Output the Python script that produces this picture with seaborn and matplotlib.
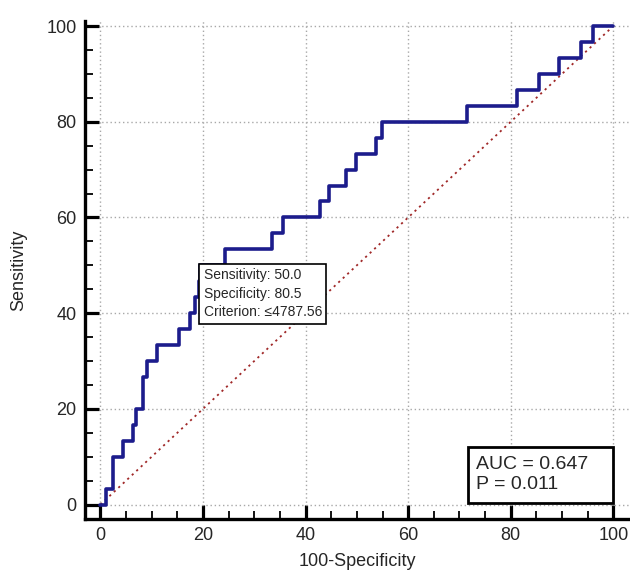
import matplotlib
matplotlib.use("Agg")
import matplotlib.pyplot as plt
import seaborn as sns
import pandas as pd
from matplotlib.ticker import MultipleLocator
from matplotlib.patches import Rectangle

# ROC curve vertices (100-Specificity, Sensitivity), drawn as steps-post
fpr = [0, 1.0, 2.4, 4.4, 6.3, 6.9, 8.3, 9.0, 11.0, 15.4, 17.5, 18.5, 19.2, 19.5,
       24.2, 33.5, 35.6, 42.9, 44.5, 47.8, 49.9, 53.7, 54.9, 71.5, 81.3, 85.6,
       89.5, 93.7, 96.0, 100]
tpr = [0, 3.33, 10, 13.33, 16.67, 20, 26.67, 30, 33.33, 36.67, 40, 43.33, 46.67,
       50, 53.33, 56.67, 60, 63.33, 66.67, 70, 73.33, 76.67, 80, 83.33, 86.67,
       90, 93.33, 96.67, 100, 100]
diag_x = [0, 100]
diag_y = [0, 100]
crit_fpr, crit_sens = 19.5, 50.0
crit_text = "Sensitivity: 50.0\nSpecificity: 80.5\nCriterion: \u22644787.56"
auc_text = "AUC = 0.647\nP = 0.011"
ticks = [0, 20, 40, 60, 80, 100]

sns.set_style("white")
plt.rcParams['font.family'] = ['Liberation Sans', 'DejaVu Sans']

fig = plt.figure(figsize=(6.3, 5.74), dpi=100)
ax = fig.add_axes([0.135, 0.096, 0.863, 0.867])

df = pd.DataFrame({"fpr": fpr, "tpr": tpr})
ddf = pd.DataFrame({"x": diag_x, "y": diag_y})

sns.lineplot(data=ddf, x="x", y="y", ax=ax, color="#a02828", lw=1.3,
             linestyle=(0, (1.2, 2.2)), sort=False, estimator=None, zorder=2)
sns.lineplot(data=df, x="fpr", y="tpr", ax=ax, color="#1c1c8c", lw=2.6,
             drawstyle="steps-post", sort=False, estimator=None, zorder=3)

ax.set_xlim(-3, 103)
ax.set_ylim(-3, 101)
ax.set_xticks(ticks)
ax.set_yticks(ticks)
ax.xaxis.set_minor_locator(MultipleLocator(5))
ax.yaxis.set_minor_locator(MultipleLocator(5))
ax.tick_params(which="major", direction="in", length=10, width=2.3, labelsize=13,
               color="black", pad=6)
ax.tick_params(which="minor", direction="in", length=5.5, width=1.3, color="black")
ax.tick_params(axis="y", which="both", left=True)
ax.tick_params(axis="x", which="both", bottom=True)

ax.grid(True, which="major", color="#a8a8a8", linestyle=(0, (1, 2)), lw=1)
for s in ["top", "right"]:
    ax.spines[s].set_visible(False)
for s in ["left", "bottom"]:
    ax.spines[s].set_linewidth(2.4)
    ax.spines[s].set_color("black")

ax.set_xlabel("100-Specificity", fontsize=13, labelpad=6)
ax.set_ylabel("Sensitivity", fontsize=13, labelpad=14)

ax.annotate(crit_text, xy=(crit_fpr, crit_sens), xytext=(2.3, -2.0),
            textcoords="offset points", ha="left", va="top", fontsize=10,
            linespacing=1.42, zorder=5,
            bbox=dict(boxstyle="square,pad=0.32", fc="white", ec="black", lw=1.2))

ax.add_patch(Rectangle((71.7, 0.4), 28.3, 11.7, fc="white", ec="black", lw=2,
                       zorder=5))
ax.text(73.3, 6.3, auc_text, ha="left", va="center", fontsize=14,
        linespacing=1.2, zorder=6)

fig.savefig("out.png", dpi=100)
